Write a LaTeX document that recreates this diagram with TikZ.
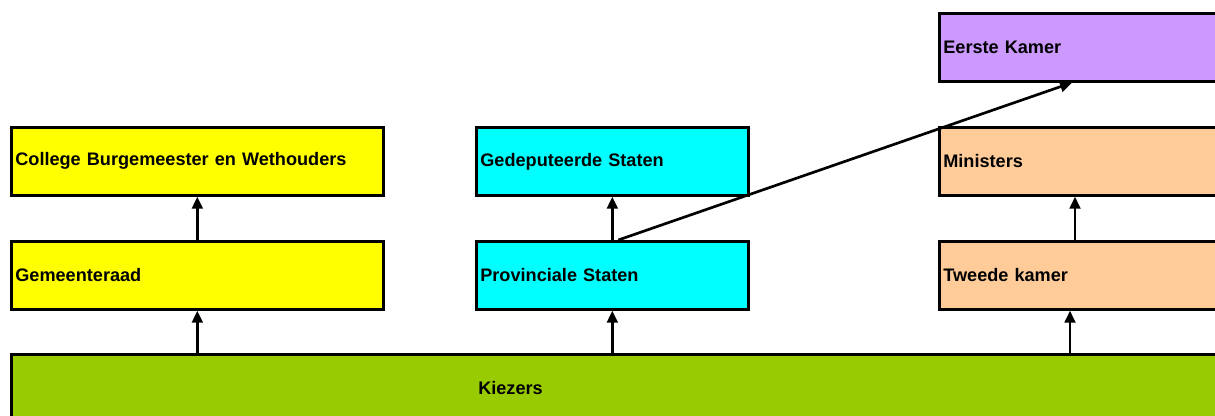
\documentclass[tikz,border=0pt]{standalone}
\usepackage{fontspec}
\setmainfont{Liberation Sans}
\usetikzlibrary{arrows.meta}

\definecolor{kzgreen}{RGB}{153,204,0}
\definecolor{ekpurple}{RGB}{204,153,255}
\definecolor{rkpeach}{RGB}{255,204,153}
\definecolor{gmyellow}{RGB}{255,255,0}
\definecolor{prcyan}{RGB}{0,255,255}

\tikzset{
  orgbox/.style={draw, line width=2pt, anchor=north west, minimum height=51pt, text width=#1,
    align=left, inner xsep=3pt, inner ysep=0pt,
    font=\bfseries\fontsize{13.6}{16}\selectfont},
  up/.style={line width=2pt, -{Triangle[length=9pt,width=8pt]}}
}

\begin{document}
\begin{tikzpicture}[x=0.75pt,y=0.75pt,yscale=-1,xscale=1]
\useasboundingbox (0,0) rectangle (1215,416);
\clip (0,0) rectangle (1215,416);

% gemeente
\node [orgbox=273pt, fill=gmyellow] (bw) at (10,126) {College Burgemeester en Wethouders};
\node [orgbox=273pt, fill=gmyellow] (gr) at (10,240) {Gemeenteraad};
% provincie
\node [orgbox=198pt, fill=prcyan] (gs) at (475,126) {Gedeputeerde Staten};
\node [orgbox=198pt, fill=prcyan] (ps) at (475,240) {Provinciale Staten};
% rijk
\node [orgbox=220pt, fill=ekpurple] (ek) at (938,12) {Eerste Kamer};
\node [orgbox=220pt, fill=rkpeach] (mi) at (938,126) {Ministers};
\node [orgbox=220pt, fill=rkpeach] (tk) at (938,240) {Tweede kamer};
% kiezers
\node [orgbox=916.5pt, fill=kzgreen] (kz) at (10,353) {};
\node [anchor=west, inner sep=0pt, font=\bfseries\fontsize{13.6}{16}\selectfont] (kzlabel) at ([xshift=351pt]kz.west) {Kiezers};

% pijlen
\draw [up] (gr.north) -- (bw.south);
\draw [up] (gr.south |- kz.north) -- (gr.south);
\draw [up] (ps.north) -- (gs.south);
\draw [up] (ps.south |- kz.north) -- (ps.south);
\draw [up] ([xshift=102.75pt]tk.north west) -- ([xshift=102.75pt]mi.south west);
\draw [up] ([xshift=99pt]tk.south west |- kz.north) -- ([xshift=99pt]tk.south west);
\draw [up] ([xshift=4.5pt]ps.north) -- ([xshift=100.5pt]ek.south west);

\end{tikzpicture}
\end{document}
